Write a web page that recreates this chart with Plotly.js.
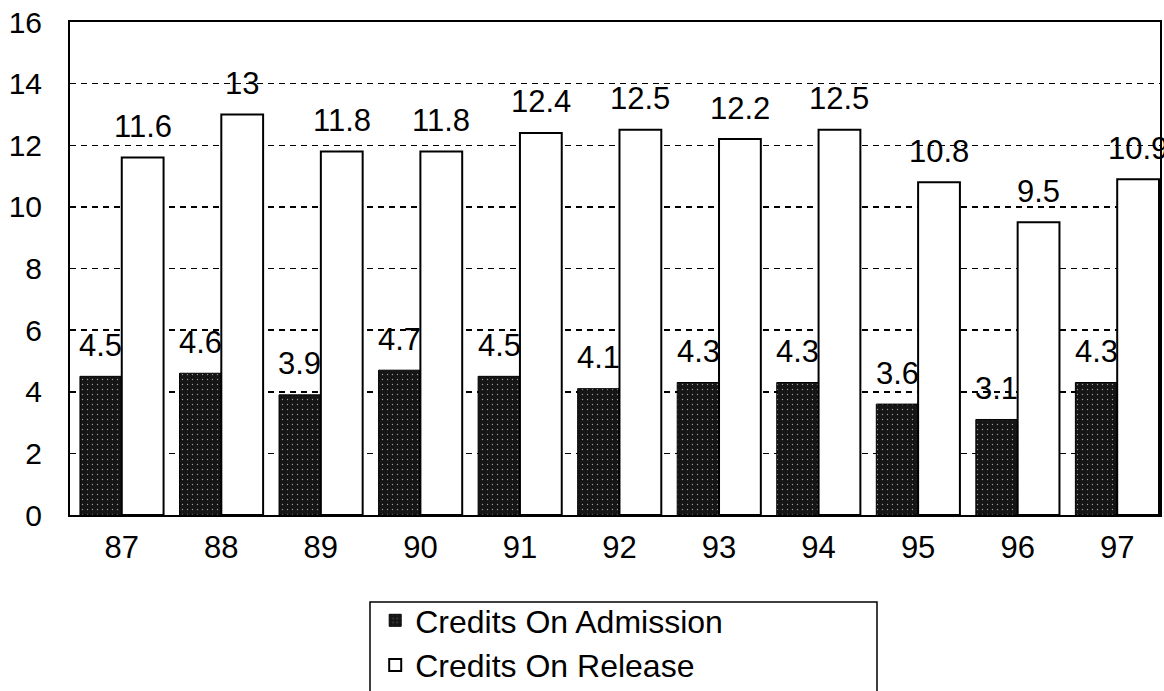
<!DOCTYPE html>
<html>
<head>
<meta charset="utf-8">
<script src="https://cdn.plot.ly/plotly-3.0.1.min.js"></script>
<style>
  html, body { margin: 0; padding: 0; background: #fff; }
  #chart { width: 1164px; height: 691px; }
</style>
</head>
<body>
<div id="chart"></div>
<script>
// Years (two-digit) and average credits per inmate
const years = ['87', '88', '89', '90', '91', '92', '93', '94', '95', '96', '97'];
const creditsOnAdmission = [4.5, 4.6, 3.9, 4.7, 4.5, 4.1, 4.3, 4.3, 3.6, 3.1, 4.3];
const creditsOnRelease = [11.6, 13, 11.8, 11.8, 12.4, 12.5, 12.2, 12.5, 10.8, 9.5, 10.9];
const yTicks = [0, 2, 4, 6, 8, 10, 12, 14, 16];

const FONT = 'Liberation Sans, Arial, sans-serif';
const BAR_GAP = 0.16;

const traces = [
  {
    type: 'bar',
    name: 'Credits On Admission',
    x: years,
    y: creditsOnAdmission,
    marker: {
      color: '#151515',
      line: { color: '#000', width: 1 },
      pattern: { shape: '.', fgcolor: '#9a9a9a', bgcolor: '#151515', size: 5, solidity: 0.06 }
    },
    hoverinfo: 'skip'
  },
  {
    type: 'bar',
    name: 'Credits On Release',
    x: years,
    y: creditsOnRelease,
    marker: { color: '#ffffff', line: { color: '#000', width: 2 } },
    hoverinfo: 'skip'
  }
];

// Value labels above each bar, shifted onto their own bar within the group
const barPx = 99.5 * (1 - BAR_GAP) / 2;
const annotations = [];
[[creditsOnAdmission, -barPx / 2], [creditsOnRelease, barPx / 2]].forEach(([vals, dx]) => {
  vals.forEach((v, i) => {
    annotations.push({
      x: i, y: v, xref: 'x', yref: 'y',
      text: String(v), showarrow: false,
      xanchor: 'center', yanchor: 'middle',
      xshift: dx, yshift: 31,
      font: { family: FONT, size: 31, color: '#000' }
    });
  });
});

const layout = {
  width: 1164,
  height: 691,
  margin: { l: 70, r: 4, t: 22, b: 176, autoexpand: false },
  paper_bgcolor: '#fff',
  plot_bgcolor: '#fff',
  font: { family: FONT, color: '#000', size: 30 },
  barmode: 'group',
  bargap: BAR_GAP,
  bargroupgap: 0,
  showlegend: true,
  legend: {
    orientation: 'v',
    x: 0.28, xanchor: 'left',
    y: (515 - 593) / 493, yanchor: 'top',
    font: { family: FONT, size: 32, color: '#000' },
    bgcolor: 'rgba(0,0,0,0)',
    borderwidth: 0,
    tracegroupgap: 0,
    itemclick: false
  },
  xaxis: {
    type: 'category',
    range: [-0.52, 10.43],
    showgrid: false,
    showline: true, linecolor: '#000', linewidth: 2, mirror: true,
    ticks: '',
    ticklabelstandoff: 4,
    tickfont: { family: FONT, size: 31, color: '#000' },
    fixedrange: true
  },
  yaxis: {
    range: [0, 16],
    tickvals: yTicks,
    ticktext: yTicks.map(String),
    showgrid: true, gridcolor: '#000', gridwidth: 1.5, griddash: '6px,5px',
    zeroline: false,
    showline: true, linecolor: '#000', linewidth: 2, mirror: true,
    ticks: '',
    ticklabelstandoff: 20,
    tickfont: { family: FONT, size: 30, color: '#000' },
    fixedrange: true
  },
  annotations: annotations,
  shapes: [
    {
      type: 'rect', xref: 'paper', yref: 'paper',
      x0: (370 - 70) / 1090, x1: (877 - 70) / 1090,
      y0: -0.36, y1: (515 - 602) / 493,
      line: { color: '#000', width: 1.5 },
      fillcolor: 'rgba(0,0,0,0)',
      layer: 'below'
    }
  ]
};

Plotly.newPlot('chart', traces, layout, { displayModeBar: false, staticPlot: true });
</script>
</body>
</html>
